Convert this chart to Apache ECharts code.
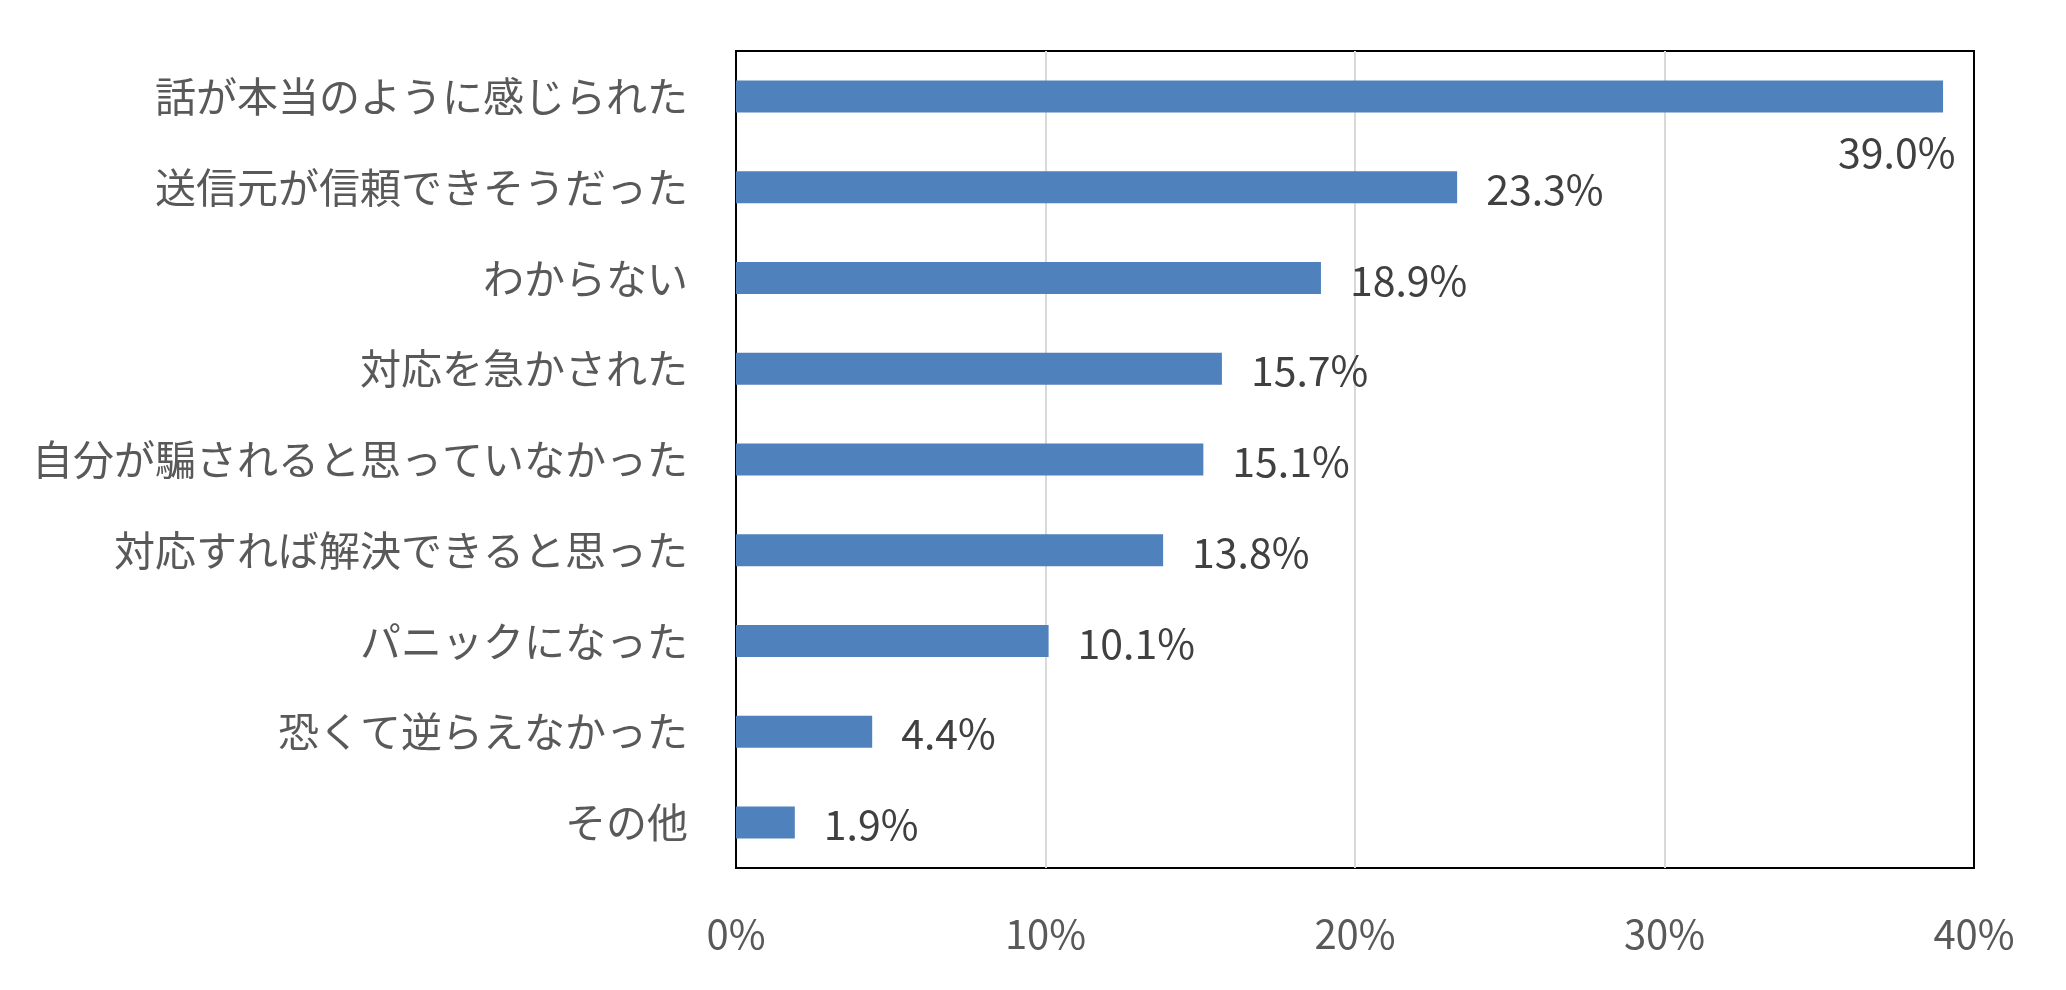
<!DOCTYPE html>
<html>
<head>
<meta charset="utf-8">
<script src="https://cdn.jsdelivr.net/npm/echarts@6/dist/echarts.min.js"></script>
<style>
html,body{margin:0;padding:0;background:#fff;}
#chart{width:2066px;height:990px;}
</style>
</head>
<body>
<div id="chart"></div>
<script>
const categories = [
  '話が本当のように感じられた',
  '送信元が信頼できそうだった',
  'わからない',
  '対応を急かされた',
  '自分が騙されると思っていなかった',
  '対応すれば解決できると思った',
  'パニックになった',
  '恐くて逆らえなかった',
  'その他'
];
const values = [39.0, 23.3, 18.9, 15.7, 15.1, 13.8, 10.1, 4.4, 1.9];
const xTicks = [0, 10, 20, 30, 40];

const FONT = '"Noto Sans CJK JP", "Noto Sans", sans-serif';

const seriesData = values.map((v, i) => {
  const item = { value: v };
  if (i === 0) {
    item.label = { offset: [-134, 56] };
  }
  return item;
});

const chart = echarts.init(document.getElementById('chart'));
chart.setOption({
  animation: false,
  backgroundColor: '#ffffff',
  grid: {
    left: 736, right: 92, top: 51, bottom: 122,
    show: true, borderColor: '#000000', borderWidth: 2,
    backgroundColor: 'transparent'
  },
  xAxis: {
    type: 'value',
    min: xTicks[0],
    max: xTicks[xTicks.length - 1],
    interval: xTicks[1] - xTicks[0],
    axisLine: { show: false },
    axisTick: { show: false },
    axisLabel: {
      formatter: '{value}%',
      fontSize: 40,
      color: '#595959',
      fontFamily: FONT,
      margin: 46
    },
    splitLine: {
      show: true,
      showMinLine: false,
      showMaxLine: false,
      lineStyle: { color: '#d9d9d9', width: 2 }
    }
  },
  yAxis: {
    type: 'category',
    inverse: true,
    data: categories,
    axisLine: { show: false },
    axisTick: { show: false },
    axisLabel: {
      fontSize: 41,
      color: '#595959',
      fontFamily: FONT,
      margin: 48
    },
    splitLine: { show: false }
  },
  series: [{
    type: 'bar',
    data: seriesData,
    barWidth: 32,
    itemStyle: { color: '#4F81BD' },
    label: {
      show: true,
      position: 'right',
      distance: 29,
      offset: [0, 2],
      fontSize: 41,
      color: '#404040',
      fontFamily: FONT,
      formatter: p => p.value.toFixed(1) + '%'
    }
  }]
});
</script>
</body>
</html>
